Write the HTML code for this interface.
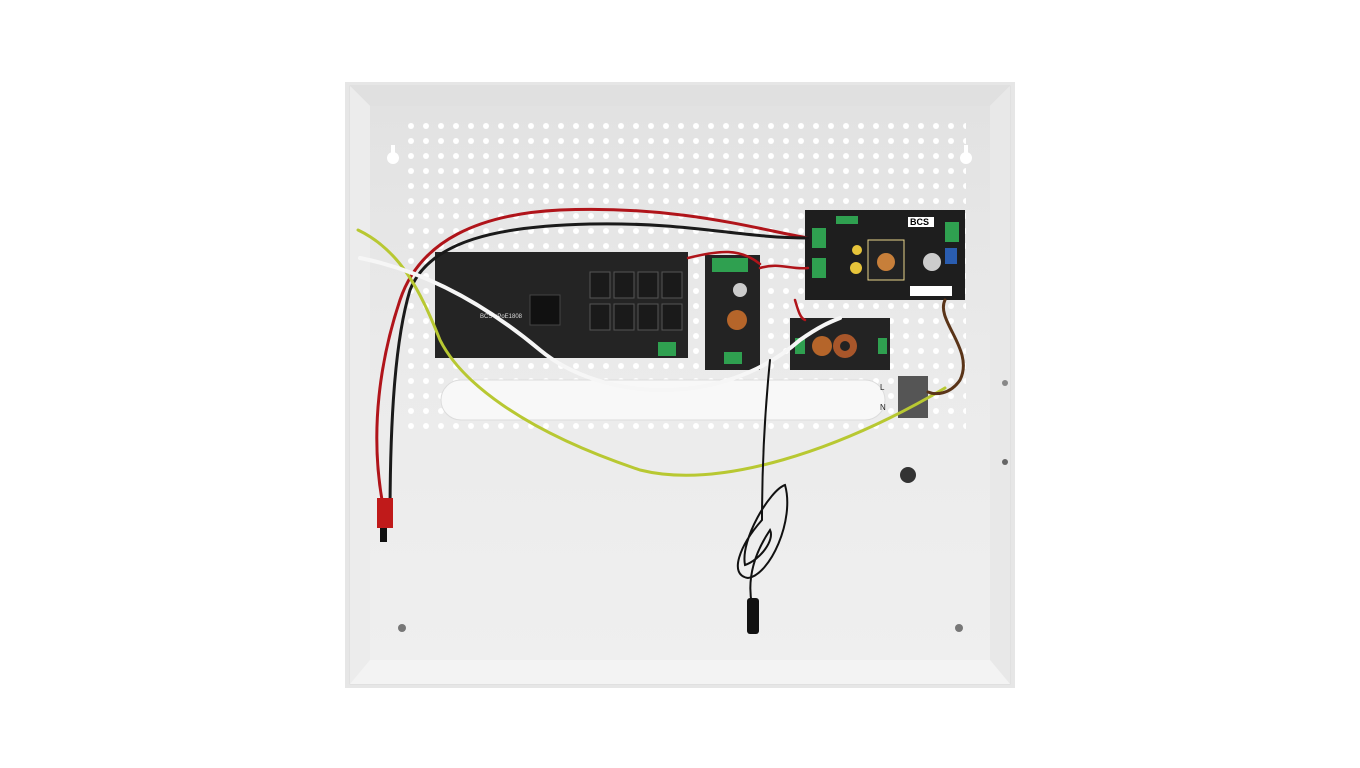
<!DOCTYPE html>
<html><head><meta charset="utf-8"><style>
html,body{margin:0;padding:0;background:#fff;width:1360px;height:768px;overflow:hidden}
</style></head><body>
<svg width="1360" height="768" viewBox="0 0 1360 768" xmlns="http://www.w3.org/2000/svg">
<defs>
<pattern id="holes" x="403.5" y="118.5" width="15" height="15" patternUnits="userSpaceOnUse">
<circle cx="7.5" cy="7.5" r="3" fill="#fff"/>
</pattern>
<linearGradient id="panel" x1="0" y1="0" x2="0" y2="1">
<stop offset="0" stop-color="#e2e2e2"/><stop offset="0.5" stop-color="#ebebeb"/><stop offset="1" stop-color="#efefef"/>
</linearGradient>
</defs>
<rect x="345" y="82" width="670" height="606" fill="#e6e6e6"/>
<rect x="350" y="86" width="660" height="598" fill="#efefef" stroke="#dadada"/>
<polygon points="350,86 1010,86 990,106 370,106" fill="#e0e0e0"/>
<rect x="370" y="106" width="620" height="554" fill="url(#panel)"/>
<polygon points="350,86 370,106 370,660 350,684" fill="#ececec"/>
<polygon points="1010,86 990,106 990,660 1010,684" fill="#e8e8e8"/>
<polygon points="370,660 990,660 1010,684 350,684" fill="#f3f3f3"/>
<rect x="403" y="120" width="563" height="318" fill="url(#holes)"/>
<circle cx="393" cy="158" r="6" fill="#fff"/><rect x="391" y="145" width="4" height="12" fill="#fff"/>
<circle cx="966" cy="158" r="6" fill="#fff"/><rect x="964" y="145" width="4" height="12" fill="#fff"/>
<rect x="441" y="380" width="444" height="40" rx="20" fill="#f8f8f8" stroke="#dcdcdc"/>
<circle cx="402" cy="628" r="4" fill="#777"/><circle cx="959" cy="628" r="4" fill="#777"/>
<circle cx="908" cy="475" r="8" fill="#333"/>
<circle cx="1005" cy="383" r="3" fill="#888"/><circle cx="1005" cy="462" r="3" fill="#666"/>
<rect x="435" y="252" width="253" height="106" fill="#242424"/>
<g fill="#1a1a1a" stroke="#555">
<rect x="590" y="272" width="20" height="26"/><rect x="614" y="272" width="20" height="26"/><rect x="638" y="272" width="20" height="26"/><rect x="662" y="272" width="20" height="26"/>
<rect x="590" y="304" width="20" height="26"/><rect x="614" y="304" width="20" height="26"/><rect x="638" y="304" width="20" height="26"/><rect x="662" y="304" width="20" height="26"/>
</g>
<rect x="530" y="295" width="30" height="30" fill="#111" stroke="#444"/>
<rect x="658" y="342" width="18" height="14" fill="#2fa050"/>
<text x="480" y="318" font-family="Liberation Sans, sans-serif" font-size="6" fill="#ddd">BCS-xPoE1808</text>
<rect x="705" y="255" width="55" height="115" fill="#232323"/>
<rect x="712" y="258" width="36" height="14" fill="#2fa050"/>
<rect x="724" y="352" width="18" height="12" fill="#2fa050"/>
<circle cx="737" cy="320" r="10" fill="#b5652a"/><circle cx="740" cy="290" r="7" fill="#ccc"/>
<rect x="805" y="210" width="160" height="90" fill="#1e1e1e"/>
<rect x="868" y="240" width="36" height="40" fill="#222" stroke="#e8d48a"/>
<circle cx="886" cy="262" r="9" fill="#c77f3a"/>
<rect x="812" y="228" width="14" height="20" fill="#2fa050"/><rect x="812" y="258" width="14" height="20" fill="#2fa050"/>
<rect x="945" y="222" width="14" height="20" fill="#2fa050"/>
<rect x="836" y="216" width="22" height="8" fill="#2fa050"/>
<circle cx="857" cy="250" r="5" fill="#e6c43a"/><circle cx="856" cy="268" r="6" fill="#e6c43a"/>
<circle cx="932" cy="262" r="9" fill="#ccc"/><rect x="945" y="248" width="12" height="16" fill="#2a5db0"/>
<rect x="908" y="217" width="26" height="10" fill="#fff"/>
<text x="910" y="225" font-family="Liberation Sans, sans-serif" font-size="9" font-weight="bold" fill="#000">BCS</text>
<rect x="910" y="286" width="42" height="10" fill="#fff"/>
<rect x="790" y="318" width="100" height="52" fill="#232323"/>
<circle cx="822" cy="346" r="10" fill="#b5652a"/><circle cx="845" cy="346" r="12" fill="#a8562a"/><circle cx="845" cy="346" r="5" fill="#222"/>
<rect x="795" y="338" width="10" height="16" fill="#2fa050"/><rect x="878" y="338" width="9" height="16" fill="#2fa050"/>
<rect x="898" y="376" width="30" height="42" fill="#555"/>
<text x="880" y="390" font-family="Liberation Sans, sans-serif" font-size="8" fill="#222">L</text>
<text x="880" y="410" font-family="Liberation Sans, sans-serif" font-size="8" fill="#222">N</text>
<g fill="none" stroke-linecap="round">
<path d="M808 238 C760 230 680 205 560 210 C480 214 420 240 400 300 C380 360 370 430 382 500 L385 525" stroke="#b0141a" stroke-width="3"/>
<path d="M808 238 C740 238 690 222 590 224 C500 226 430 240 410 290 C395 340 390 420 390 520" stroke="#1a1a1a" stroke-width="3"/>
<path d="M688 258 C720 250 740 248 760 264 M808 268 C790 270 780 262 760 268" stroke="#b0141a" stroke-width="2.5"/>
<path d="M795 300 C798 310 800 318 805 320" stroke="#b0141a" stroke-width="2.5"/>
<path d="M358 230 C400 250 420 290 440 340 C460 380 520 430 640 470 C720 490 840 450 945 388" stroke="#b8c832" stroke-width="3"/>
<path d="M360 258 C420 270 480 300 540 350 C600 400 720 410 800 340 C820 326 830 322 840 318" stroke="#f6f6f6" stroke-width="4"/>
<path d="M945 300 C935 320 975 350 960 380 C950 395 935 395 928 392" stroke="#5a3418" stroke-width="3"/>
<path d="M770 360 C764 420 762 480 762 520 C740 545 728 575 748 578 C770 575 795 520 785 485 C770 490 740 540 745 565 C760 560 775 540 770 530 C750 560 748 585 752 605" stroke="#111" stroke-width="2"/>
</g>
<rect x="377" y="498" width="16" height="30" fill="#c01a1a"/><rect x="380" y="528" width="7" height="14" fill="#111"/>
<rect x="747" y="598" width="12" height="36" rx="3" fill="#111"/>
</svg>
</body></html>
